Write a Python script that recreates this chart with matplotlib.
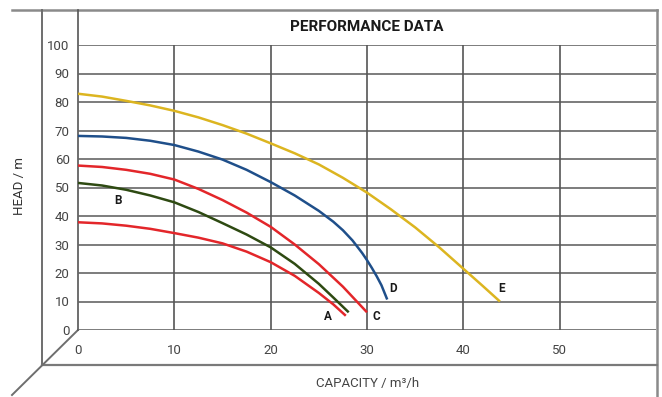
import matplotlib
matplotlib.use("Agg")
import matplotlib.pyplot as plt
from matplotlib.lines import Line2D

# ---- data ----
q_a = [0, 2.5, 5, 7.5, 10, 12.5, 15, 17.5, 20, 22.5, 25, 26.5, 27.8]
h_a = [37.8, 37.4, 36.6, 35.5, 34.0, 32.4, 30.4, 27.5, 23.8, 19.0, 13.0, 9.0, 5.0]

q_b = [0, 2.5, 5, 7.5, 10, 12.5, 15, 17.5, 20, 22.5, 25, 26.5, 28.1]
h_b = [51.6, 50.7, 49.2, 47.2, 44.8, 41.4, 37.5, 33.5, 29.0, 23.2, 16.2, 11.4, 6.2]

q_c = [0, 2.5, 5, 7.5, 10, 12.5, 15, 17.5, 20, 22.5, 25, 27.5, 30.0]
h_c = [57.7, 57.2, 56.2, 54.8, 52.8, 49.5, 45.6, 41.2, 36.2, 30.0, 23.1, 15.2, 6.2]

q_d = [0, 2.5, 5, 7.5, 10, 12.5, 15, 17.5, 20, 22.5, 25, 26.5, 27.5, 28.5,
       29.5, 30, 30.5, 31, 31.5, 32.1]
h_d = [68.1, 67.9, 67.4, 66.4, 64.9, 62.6, 59.8, 56.2, 51.9, 47.2, 41.8, 38.0,
       35.0, 31.4, 27.0, 24.5, 21.8, 18.9, 15.7, 10.7]

q_e = [0, 2.5, 5, 7.5, 10, 12.5, 15, 17.5, 20, 22.5, 25, 27.5, 30, 32.5, 35,
       37.5, 40, 42, 43.8]
h_e = [82.9, 81.9, 80.4, 78.8, 76.9, 74.6, 71.9, 68.9, 65.5, 62.0, 58.1, 53.4,
       48.2, 42.3, 36.0, 29.0, 21.5, 15.5, 10.0]

curve_names = ["A", "B", "C", "D", "E"]
label_pos_q = [25.9, 4.2, 31.0, 32.7, 44.0]
label_pos_h = [4.6, 45.4, 4.6, 14.7, 14.7]

x_ticks = [0, 10, 20, 30, 40, 50]
y_ticks = [0, 10, 20, 30, 40, 50, 60, 70, 80, 90, 100]

W, H = 662, 397
fig = plt.figure(figsize=(W / 100, H / 100), dpi=100)
fig.patch.set_facecolor("white")

# overlay axes in pixel coordinates for the pseudo-3D frame
ov = fig.add_axes([0, 0, 1, 1])
ov.set_xlim(0, W)
ov.set_ylim(H, 0)
ov.axis("off")

frame_c = "#8a8a8a"
fw = 1.8
ov.add_line(Line2D([12, 657], [10, 10], color=frame_c, lw=fw))      # top
ov.add_line(Line2D([657, 657], [10, 397], color=frame_c, lw=fw))    # right
ov.add_line(Line2D([42, 42], [10, 365], color="#6e6e6e", lw=1.4))   # left wall
ov.add_line(Line2D([42, 657], [365, 365], color="#7a7a7a", lw=1.6)) # floor
ov.add_line(Line2D([78, 12], [330, 395], color="#6e6e6e", lw=1.4))  # diagonal
ov.add_line(Line2D([78, 78], [10, 330], color="#555555", lw=1.2))   # back left
ov.text(367, 27, "PERFORMANCE DATA", ha="center", va="center",
        fontsize=11, fontweight="bold", family="Roboto", color="#1a1a1a")
ov.text(20, 186, "HEAD / m", ha="center", va="center", rotation=90,
        fontsize=9.5, family="Roboto", color="#333333")
ov.text(368, 383, "CAPACITY / m\u00b3/h", ha="center", va="center",
        fontsize=9.5, family="Roboto", color="#444444")

# data axes
left, right, top, bottom = 78, 656, 45, 330
ax = fig.add_axes([left / W, (H - bottom) / H, (right - left) / W, (bottom - top) / H])
ax.set_xlim(0, 60)
ax.set_ylim(0, 100)
ax.patch.set_alpha(0)
for s in ax.spines.values():
    s.set_visible(False)
ax.set_xticks(x_ticks)
ax.set_yticks(y_ticks)
ax.tick_params(length=0, labelsize=9.5, labelcolor="#444444")
for lab in ax.get_xticklabels() + ax.get_yticklabels():
    lab.set_family("Roboto")
ax.tick_params(axis="x", pad=10)
ax.tick_params(axis="y", pad=6)
for yv in y_ticks:
    ax.axhline(yv, color="#666666", lw=1.2, zorder=1)
for xv in x_ticks[1:]:
    ax.axvline(xv, color="#555555", lw=1.2, zorder=1)

lw = 1.8
ax.plot(q_e, h_e, color="#dcb520", lw=lw, zorder=3, solid_capstyle="butt", solid_joinstyle="round")
ax.plot(q_d, h_d, color="#1f4f8a", lw=lw, zorder=3, solid_capstyle="butt", solid_joinstyle="round")
ax.plot(q_c, h_c, color="#e3262a", lw=lw, zorder=3, solid_capstyle="butt", solid_joinstyle="round")
ax.plot(q_b, h_b, color="#2e4a12", lw=lw, zorder=3, solid_capstyle="butt", solid_joinstyle="round")
ax.plot(q_a, h_a, color="#e3262a", lw=lw, zorder=3, solid_capstyle="butt", solid_joinstyle="round")

for n, qx, hy in zip(curve_names, label_pos_q, label_pos_h):
    ax.text(qx, hy, n, ha="center", va="center", fontsize=8.5, fontweight="bold",
            family="Roboto", color="#1a1a1a", zorder=4)

fig.savefig("out.png", dpi=100)
